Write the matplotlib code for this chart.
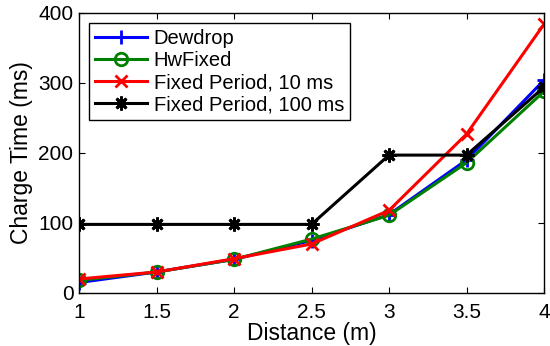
import matplotlib
matplotlib.use('Agg')
import matplotlib.pyplot as plt

plt.rcParams['font.family'] = 'sans-serif'
plt.rcParams['font.sans-serif'] = ['Liberation Sans', 'DejaVu Sans']
plt.rcParams['font.size'] = 13.0

distance = [1, 1.5, 2, 2.5, 3, 3.5, 4]
dewdrop = [15, 30, 48, 75, 112, 190, 304]
hwfixed = [18, 30, 48, 77, 111, 186, 288]
fixed10 = [20, 30, 49, 70, 118, 227, 384]
fixed100 = [98, 98, 98, 98, 197, 197, 294]

fig = plt.figure(figsize=(5.5, 3.46), dpi=100)
ax = fig.add_axes([79/550, 1 - 293/346, (544-79)/550, (293-13)/346])

lw = 2.2
ax.plot(distance, dewdrop, '-+', color='#0000ff', lw=lw, ms=10, mew=2, label='Dewdrop')
ax.plot(distance, hwfixed, '-o', color='#008000', lw=lw, ms=9, mew=2, mfc='none', label='HwFixed')
ax.plot(distance, fixed10, '-x', color='#ff0000', lw=lw, ms=8, mew=2, label='Fixed Period, 10 ms')
ax.plot(distance, fixed100, '-', marker=(8, 2, 0), color='black', lw=lw, ms=10, mew=2, label='Fixed Period, 100 ms')

ax.set_xlim(1, 4)
ax.set_ylim(0, 400)
ax.set_xticks([1, 1.5, 2, 2.5, 3, 3.5, 4])
ax.set_xticklabels(['1', '1.5', '2', '2.5', '3', '3.5', '4'])
ax.set_yticks([0, 100, 200, 300, 400])
ax.tick_params(direction='in', top=True, right=True, length=4, labelsize=15)
ax.tick_params(axis='x', pad=7)
ax.tick_params(axis='y', pad=4)
for s in ax.spines.values():
    s.set_linewidth(1.0)

ax.set_xlabel('Distance (m)', fontsize=16.5, labelpad=0)
ax.set_ylabel('Charge Time (ms)', fontsize=16.5, labelpad=4)

leg = ax.legend(loc='upper left', fontsize=14.5, handlelength=2.6, handletextpad=0.3,
                labelspacing=0.15, borderpad=0.3, borderaxespad=0.5, fancybox=False,
                framealpha=1, edgecolor='black')
leg.get_frame().set_linewidth(1.0)

fig.savefig('out.png', dpi=100)
